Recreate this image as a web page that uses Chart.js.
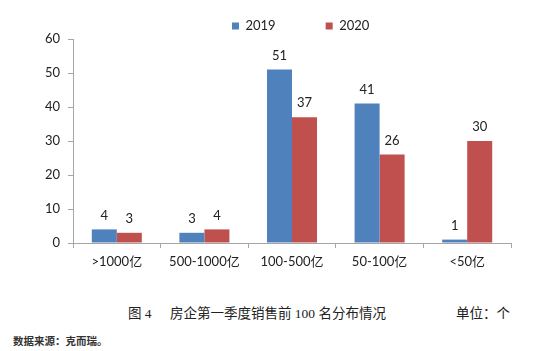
<!DOCTYPE html>
<html>
<head>
<meta charset="utf-8">
<script src="https://cdn.jsdelivr.net/npm/chart.js@4/dist/chart.umd.min.js"></script>
<style>
  html, body { margin: 0; padding: 0; background: #fff; }
  #wrap { position: relative; width: 548px; height: 351px; overflow: hidden; }
  #chartBox { position: absolute; left: 0; top: 0; width: 548px; height: 290px; }
  .cap { position: absolute; white-space: pre; color: #222;
         font-family: "Liberation Serif", "Noto Sans CJK SC", serif; font-size: 13.5px; line-height: 16px; }
  .src { position: absolute; white-space: pre; color: #333; font-weight: bold;
         font-family: "Noto Sans CJK SC", sans-serif; font-size: 10.5px; line-height: 14px; }
</style>
</head>
<body>
<div id="wrap">
  <div id="chartBox"><canvas id="c"></canvas></div>
  <div class="cap" style="left:128px; top:306px;">图 4</div>
  <div class="cap" style="left:170px; top:306px;">房企第一季度销售前 100 名分布情况</div>
  <div class="cap" style="left:456px; top:306px;">单位：个</div>
  <div class="src" style="left:13px; top:334px;">数据来源：克而瑞。</div>
</div>
<script>
const categories = ['>1000亿', '500-1000亿', '100-500亿', '50-100亿', '<50亿'];
const seriesNames = ['2019', '2020'];
const values2019 = [4, 3, 51, 41, 1];
const values2020 = [3, 4, 37, 26, 30];
const yTickValues = [0, 10, 20, 30, 40, 50, 60];

const FONT = '"Lato", "Open Sans", "Noto Sans CJK SC", sans-serif';
const AXIS_COLOR = '#a6a6a6';
const TEXT_COLOR = '#222';

const valueLabels = {
  id: 'valueLabels',
  afterDatasetsDraw(chart) {
    const ctx = chart.ctx;
    ctx.save();
    ctx.font = '13px ' + FONT;
    ctx.fillStyle = TEXT_COLOR;
    ctx.textAlign = 'center';
    ctx.textBaseline = 'middle';
    chart.data.datasets.forEach((ds, i) => {
      const meta = chart.getDatasetMeta(i);
      meta.data.forEach((el, j) => {
        ctx.fillText(String(ds.data[j]), el.x, el.y - 14);
      });
    });
    ctx.restore();
  }
};

const legendPlace = {
  id: 'legendPlace',
  afterLayout(chart) {
    const lg = chart.legend;
    if (!lg) return;
    const pad = lg.options.labels.padding;
    lg.left = 232 - pad;
    lg.right = chart.width;
    lg.width = lg.right - lg.left;
    lg.top = 26 - 6.5 - pad;
    lg.bottom = 38;
    lg.height = lg.bottom - lg.top;
  }
};

new Chart(document.getElementById('c'), {
  type: 'bar',
  data: {
    labels: categories,
    datasets: [
      { label: seriesNames[0], data: values2019, backgroundColor: '#4F81BD', borderWidth: 0,
        categoryPercentage: 0.571, barPercentage: 1.0 },
      { label: seriesNames[1], data: values2020, backgroundColor: '#C0504D', borderWidth: 0,
        categoryPercentage: 0.571, barPercentage: 1.0 }
    ]
  },
  options: {
    responsive: true,
    maintainAspectRatio: false,
    animation: false,
    layout: { padding: { top: 9, left: 0, right: 37, bottom: 17 } },
    plugins: {
      legend: {
        display: true,
        position: 'top',
        align: 'start',
        maxHeight: 30,
        labels: {
          boxWidth: 7,
          boxHeight: 7,
          padding: 50,
          color: TEXT_COLOR,
          font: { family: FONT, size: 13 }
        }
      },
      tooltip: { enabled: false },
      title: { display: false }
    },
    scales: {
      x: {
        offset: true,
        grid: { display: true, drawOnChartArea: false, offset: true, tickLength: 5, color: AXIS_COLOR },
        border: { display: true, color: AXIS_COLOR },
        ticks: { color: TEXT_COLOR, font: { family: FONT, size: 13 }, padding: 6, maxRotation: 0 },
        afterFit(s) { s.height = 30; }
      },
      y: {
        min: 0,
        max: 60,
        grid: { display: true, drawOnChartArea: false, tickLength: 5, color: AXIS_COLOR },
        border: { display: true, color: AXIS_COLOR },
        afterBuildTicks(s) { s.ticks = yTickValues.map(v => ({ value: v })); },
        ticks: { color: TEXT_COLOR, font: { family: FONT, size: 13 }, padding: 8 },
        afterFit(s) { s.width = 73; }
      }
    }
  },
  plugins: [valueLabels, legendPlace]
});
</script>
</body>
</html>
